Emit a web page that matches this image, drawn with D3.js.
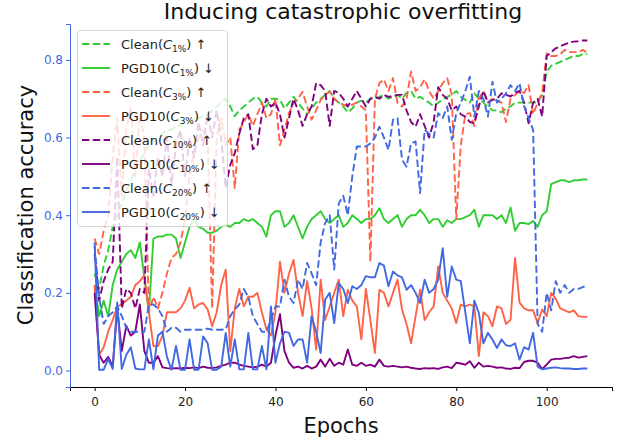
<!DOCTYPE html>
<html><head><meta charset="utf-8">
<script src="https://cdn.jsdelivr.net/npm/d3@7"></script>
<style>body{margin:0;background:#fff}svg{display:block;font-family:"DejaVu Sans",sans-serif}</style>
</head><body><svg id="c" width="624" height="440"></svg>
<script>
const epochs = d3.range(110);
const cleanC1 = [0.25,0.21,0.27,0.31,0.37,0.40,0.43,0.46,0.49,0.52,
0.54,0.56,0.58,0.59,0.60,0.61,0.62,0.62,0.63,0.63,
0.64,0.64,0.65,0.65,0.655,0.66,0.67,0.68,0.69,0.70,
0.68,0.655,0.67,0.68,0.69,0.70,0.705,0.69,0.68,0.70,
0.70,0.697,0.675,0.69,0.705,0.69,0.675,0.66,0.675,0.69,
0.70,0.71,0.72,0.70,0.69,0.68,0.665,0.675,0.69,0.695,
0.69,0.70,0.70,0.705,0.71,0.70,0.705,0.71,0.70,0.715,
0.72,0.70,0.705,0.697,0.69,0.68,0.69,0.697,0.705,0.71,
0.72,0.705,0.697,0.69,0.714,0.70,0.69,0.68,0.67,0.67,
0.665,0.675,0.68,0.69,0.69,0.69,0.69,0.69,0.69,0.71,
0.77,0.785,0.79,0.795,0.80,0.805,0.81,0.81,0.815,0.815];
const pgdC1 = [0.22,0.14,0.18,0.14,0.22,0.26,0.28,0.30,0.31,0.29,
0.33,0.24,0.15,0.34,0.345,0.345,0.35,0.35,0.34,0.29,
0.33,0.37,0.39,0.37,0.365,0.355,0.355,0.36,0.37,0.375,
0.37,0.38,0.38,0.39,0.385,0.39,0.38,0.37,0.345,0.40,
0.41,0.41,0.37,0.38,0.40,0.37,0.34,0.37,0.39,0.40,
0.41,0.39,0.38,0.39,0.40,0.37,0.38,0.40,0.39,0.38,
0.39,0.39,0.40,0.418,0.39,0.38,0.39,0.40,0.37,0.39,
0.40,0.40,0.414,0.40,0.38,0.39,0.39,0.37,0.387,0.38,
0.39,0.39,0.395,0.40,0.414,0.37,0.40,0.40,0.40,0.39,
0.40,0.38,0.42,0.36,0.38,0.38,0.377,0.385,0.37,0.40,
0.41,0.48,0.485,0.49,0.49,0.485,0.49,0.49,0.492,0.492];
const cleanC3 = [0.34,0.30,0.36,0.40,0.55,0.65,0.45,0.62,0.68,0.50,
0.66,0.60,0.15,0.19,0.16,0.20,0.25,0.29,0.30,0.33,
0.39,0.50,0.56,0.60,0.62,0.60,0.16,0.60,0.65,0.58,
0.60,0.47,0.62,0.64,0.66,0.63,0.66,0.69,0.65,0.66,
0.70,0.58,0.62,0.663,0.69,0.70,0.718,0.68,0.646,0.67,
0.697,0.71,0.718,0.70,0.69,0.685,0.68,0.685,0.69,0.68,
0.67,0.28,0.70,0.74,0.75,0.72,0.753,0.69,0.68,0.70,
0.77,0.72,0.73,0.75,0.72,0.70,0.72,0.74,0.753,0.71,
0.39,0.58,0.66,0.663,0.63,0.70,0.72,0.69,0.70,0.695,
0.69,0.64,0.70,0.71,0.72,0.715,0.735,0.66,0.69,0.715,
0.817,0.81,0.81,0.815,0.826,0.82,0.82,0.82,0.826,0.817];
const pgdC3 = [0.22,0.04,0.06,0.10,0.13,0.165,0.17,0.18,0.19,0.22,
0.23,0.245,0.15,0.063,0.063,0.09,0.15,0.15,0.15,0.16,
0.18,0.213,0.16,0.17,0.174,0.157,0.114,0.15,0.22,0.26,
0.05,0.16,0.21,0.165,0.19,0.19,0.20,0.15,0.106,0.09,
0.15,0.28,0.20,0.25,0.285,0.20,0.14,0.23,0.16,0.054,
0.234,0.13,0.165,0.20,0.234,0.14,0.208,0.18,0.165,0.08,
0.21,0.13,0.045,0.208,0.20,0.165,0.20,0.234,0.157,0.12,
0.07,0.14,0.208,0.13,0.15,0.165,0.268,0.20,0.18,0.16,
0.122,0.17,0.165,0.17,0.165,0.037,0.15,0.14,0.114,0.165,
0.16,0.12,0.13,0.29,0.175,0.16,0.155,0.155,0.122,0.157,
0.14,0.20,0.185,0.16,0.155,0.15,0.155,0.14,0.138,0.138];
const cleanC10 = [0.30,0.18,0.23,0.26,0.28,0.55,0.16,0.21,0.20,0.16,
0.21,0.20,0.52,0.45,0.55,0.50,0.60,0.48,0.58,0.62,
0.50,0.60,0.55,0.64,0.58,0.66,0.60,0.67,0.60,0.47,
0.53,0.56,0.61,0.65,0.66,0.57,0.58,0.66,0.70,0.68,
0.69,0.66,0.60,0.65,0.70,0.67,0.63,0.66,0.68,0.74,
0.735,0.72,0.63,0.72,0.715,0.70,0.68,0.70,0.72,0.70,
0.68,0.70,0.705,0.70,0.71,0.705,0.706,0.71,0.71,0.67,
0.64,0.628,0.66,0.63,0.60,0.64,0.73,0.71,0.70,0.67,
0.68,0.66,0.654,0.64,0.637,0.68,0.72,0.69,0.697,0.70,
0.714,0.71,0.706,0.715,0.72,0.69,0.637,0.69,0.70,0.654,
0.81,0.82,0.83,0.835,0.84,0.845,0.847,0.848,0.85,0.85];
const pgdC10 = [0.20,0.04,0.02,0.035,0.01,0.16,0.05,0.115,0.09,0.10,
0.17,0.05,0.02,0.02,0.037,0.008,0.006,0.005,0.006,0.005,
0.007,0.006,0.008,0.006,0.01,0.007,0.006,0.008,0.012,0.015,
0.02,0.02,0.015,0.012,0.01,0.008,0.01,0.015,0.01,0.02,
0.09,0.145,0.05,0.02,0.007,0.01,0.005,0.012,0.005,0.01,
0.028,0.01,0.03,0.012,0.02,0.015,0.054,0.015,0.012,0.02,
0.012,0.015,0.01,0.028,0.012,0.01,0.012,0.01,0.008,0.01,
0.007,0.005,0.004,0.006,0.005,0.006,0.004,0.008,0.01,0.006,
0.02,0.018,0.015,0.024,0.007,0.02,0.01,0.012,0.01,0.007,
0.008,0.005,0.004,0.007,0.006,0.022,0.025,0.025,0.02,0.004,
0.015,0.028,0.03,0.03,0.032,0.033,0.037,0.033,0.035,0.037];
const cleanC20 = [0.32,0.19,0.12,0.14,0.15,0.165,0.14,0.11,0.10,0.10,
0.10,0.10,0.17,0.17,0.16,0.14,0.10,0.11,0.11,0.10,
0.105,0.105,0.105,0.105,0.105,0.108,0.105,0.105,0.105,0.106,
0.14,0.157,0.17,0.21,0.19,0.14,0.12,0.10,0.10,0.13,
0.165,0.165,0.234,0.19,0.174,0.234,0.21,0.277,0.25,0.22,
0.33,0.38,0.40,0.26,0.43,0.45,0.40,0.50,0.577,0.577,
0.577,0.585,0.60,0.628,0.60,0.568,0.646,0.65,0.543,0.525,
0.585,0.59,0.457,0.62,0.61,0.60,0.663,0.65,0.68,0.594,
0.663,0.69,0.72,0.757,0.654,0.72,0.70,0.654,0.744,0.69,
0.70,0.714,0.735,0.72,0.74,0.68,0.65,0.62,0.12,0.10,
0.20,0.155,0.23,0.20,0.22,0.20,0.21,0.21,0.215,0.22];
const pgdC20 = [0.33,0.002,0.002,0.03,0.004,0.175,0.004,0.04,0.06,0.005,
0.003,0.003,0.08,0.003,0.09,0.10,0.035,0.002,0.063,0.002,
0.002,0.08,0.002,0.002,0.088,0.07,0.002,0.002,0.01,0.097,
0.01,0.08,0.003,0.003,0.097,0.003,0.003,0.063,0.003,0.165,
0.02,0.07,0.10,0.097,0.063,0.08,0.08,0.02,0.14,0.10,
0.045,0.183,0.20,0.122,0.225,0.21,0.174,0.217,0.21,0.22,
0.243,0.24,0.24,0.277,0.27,0.217,0.255,0.245,0.24,0.208,
0.22,0.20,0.174,0.234,0.20,0.21,0.234,0.315,0.19,0.268,
0.234,0.23,0.15,0.07,0.18,0.148,0.07,0.097,0.08,0.058,
0.08,0.065,0.063,0.07,0.028,0.06,0.054,0.097,0.01,0.003,
0.005,0.007,0.008,0.006,0.005,0.005,0.004,0.004,0.005,0.005];
const xTicks = [0,20,40,60,80,100];
const yTicks = [0.0,0.2,0.4,0.6,0.8];
const seriesNames = ["Clean","PGD10","Clean","PGD10","Clean","PGD10","Clean","PGD10"];
const seriesSubs = ["1%","1%","3%","3%","10%","10%","20%","20%"];
const seriesArrows = ["↑","↓","↑","↓","↑","↓","↑","↓"];
const seriesValues = [cleanC1,pgdC1,cleanC3,pgdC3,cleanC10,pgdC10,cleanC20,pgdC20];
const colors = ["#32CD32","#32CD32","#FF6347","#FF6347","#800080","#800080","#4169E1","#4169E1"];
const dashed = [true,false,true,false,true,false,true,false];

const svg = d3.select("#c");
svg.append("rect").attr("width",624).attr("height",440).attr("fill","#fff");
const x = d3.scaleLinear().domain([-5.45,114.45]).range([70,612]);
const y = d3.scaleLinear().domain([-0.0425,0.8925]).range([387,24]);

const line = d3.line().x((d,i)=>x(epochs[i])).y(d=>y(d));
seriesValues.forEach((vals,k)=>{
  svg.append("path").datum(vals).attr("d",line).attr("fill","none")
    .attr("stroke",colors[k]).attr("stroke-width",1.9)
    .attr("stroke-linejoin","round")
    .attr("stroke-dasharray",dashed[k]?"7.4,3.4":null);
});

const gx = svg.append("g").attr("transform","translate(0,387)")
  .call(d3.axisBottom(x).tickValues(xTicks).tickSizeOuter(0).tickSize(4).tickPadding(6));
gx.select(".domain").attr("stroke","#000");
gx.selectAll(".tick line").attr("stroke","#000");
gx.selectAll("text").attr("font-size",12).attr("fill","#222").attr("font-family","DejaVu Sans");

const gy = svg.append("g").attr("transform","translate(70,0)")
  .call(d3.axisLeft(y).tickValues(yTicks).tickFormat(d3.format(".1f")).tickSizeOuter(0).tickSize(4).tickPadding(3));
gy.select(".domain").attr("stroke","#4169E1");
gy.selectAll(".tick line").attr("stroke","#4169E1");
gy.selectAll("text").attr("font-size",12).attr("fill","#4169E1").attr("font-family","DejaVu Sans");

svg.append("text").attr("x",343).attr("y",19).attr("text-anchor","middle")
  .attr("font-size",22).attr("fill","#111").text("Inducing catastrophic overfitting");
svg.append("text").attr("x",341).attr("y",433).attr("text-anchor","middle")
  .attr("font-size",21).attr("fill","#111").text("Epochs");
svg.append("text").attr("transform","translate(33,205) rotate(-90)").attr("text-anchor","middle")
  .attr("font-size",21).attr("fill","#111").text("Classification accuracy");

const lg = svg.append("g");
lg.append("rect").attr("x",77.5).attr("y",30.5).attr("width",150).attr("height",196).attr("rx",3)
  .attr("fill","#fff").attr("fill-opacity",0.8).attr("stroke","#ccc").attr("stroke-opacity",0.8);
seriesNames.forEach((nm,k)=>{
  const yy = 44 + 24*k;
  lg.append("line").attr("x1",82).attr("x2",110).attr("y1",yy).attr("y2",yy)
    .attr("stroke",colors[k]).attr("stroke-width",1.9)
    .attr("stroke-dasharray",dashed[k]?"7.4,3.4":null);
  const t = lg.append("text").attr("x",121).attr("y",yy+4.5).attr("font-size",13).attr("fill","#222");
  t.append("tspan").text(nm+"(");
  t.append("tspan").attr("font-style","italic").text("C");
  t.append("tspan").attr("font-size",9).attr("dy",3).text(seriesSubs[k]);
  t.append("tspan").attr("dy",-3).text(")");
  t.append("tspan").text(" "+seriesArrows[k]);
});
</script></body></html>
